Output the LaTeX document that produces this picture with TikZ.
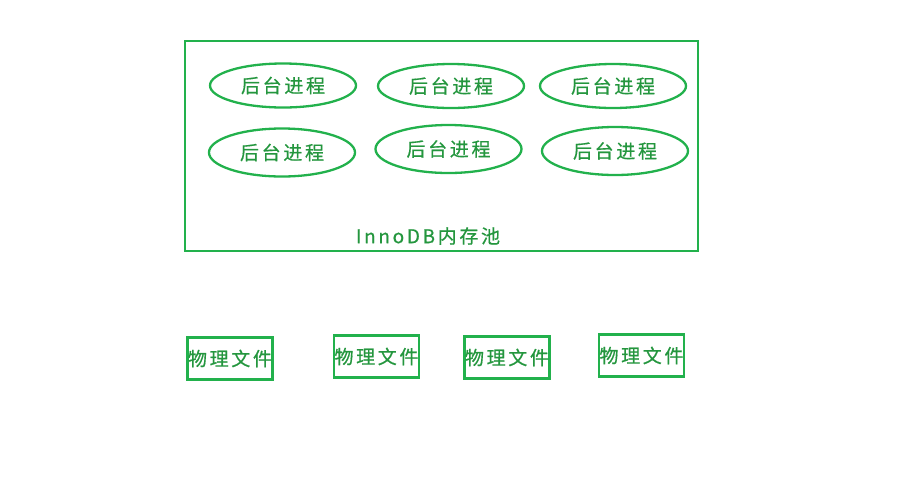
\documentclass[tikz,border=0pt]{standalone}
\usepackage{fontspec}
\usepackage{xcolor}
\usepackage{tikz}
\usetikzlibrary{shapes.geometric}
\newfontfamily\cjk[LetterSpace=14,FakeBold=0.6]{Noto Sans CJK SC}
\definecolor{paintgreen}{RGB}{34,177,76}
\definecolor{textgreen}{RGB}{36,150,62}
\tikzset{
  proc/.style={ellipse,draw=paintgreen,line width=2.3pt,minimum width=146pt,minimum height=44pt,inner sep=0pt,text=textgreen,font=\cjk\fontsize{19}{19}\selectfont},
  filebox/.style={rectangle,draw=paintgreen,line width=2.6pt,minimum width=85pt,minimum height=42pt,inner sep=0pt,text=textgreen,font=\cjk\fontsize{19}{19}\selectfont}
}
\begin{document}
\begin{tikzpicture}[x=1pt,y=-1pt]
            \useasboundingbox (0,0) rectangle (900,483);
            \node [draw=paintgreen,line width=2.6pt,minimum width=513pt,minimum height=210pt,inner sep=0pt] (pool) at (441.5,146) {};
            \node [text=textgreen,font=\cjk\fontsize{19}{19}\selectfont] (poollabel) at (428,236) {InnoDB内存池};

            \node [proc] (P1) at (283,85.5) {后台进程};
            \node [proc] (P2) at (451,86) {后台进程};
            \node [proc] (P3) at (613,86) {后台进程};
            \node [proc,minimum height=48pt] (P4) at (282,152.5) {后台进程};
            \node [proc,minimum height=48pt] (P5) at (448.5,149) {后台进程};
            \node [proc,minimum height=48pt] (P6) at (615,151) {后台进程};

            \node [filebox] (F1) at (230,358.5) {物理文件};
            \node [filebox] (F2) at (376.5,356.5) {物理文件};
            \node [filebox] (F3) at (507,357.5) {物理文件};
            \node [filebox] (F4) at (641.5,355.5) {物理文件};
\end{tikzpicture}
\end{document}
